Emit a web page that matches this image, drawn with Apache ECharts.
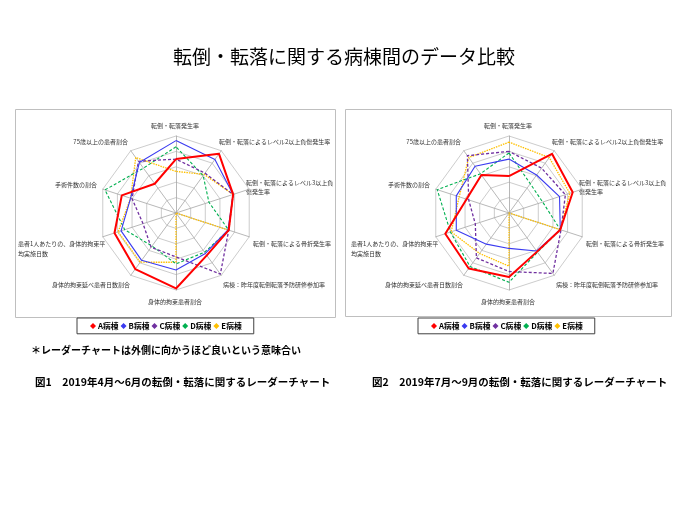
<!DOCTYPE html>
<html>
<head>
<meta charset="utf-8">
<script src="https://cdn.jsdelivr.net/npm/echarts@6/dist/echarts.min.js"></script>
<style>
html,body{margin:0;padding:0;background:#fff;}
#c{width:680px;height:510px;}
</style>
</head>
<body>
<div id="c"></div>
<script>
// Axis labels, clockwise from the top
const axisLabels = [
  '転倒・転落発生率',
  '転倒・転落によるレベル2以上負傷発生率',
  '転倒・転落によるレベル3以上負\n傷発生率',
  '転倒・転落による骨折発生率',
  '病棟：昨年度転倒転落予防研修参加率',
  '身体的拘束患者割合',
  '身体的拘束延べ患者日数割合',
  '患者1人あたりの、身体的拘束平\n均実施日数',
  '手術件数の割合',
  '75歳以上の患者割合'
];
const wards = ['A病棟', 'B病棟', 'C病棟', 'D病棟', 'E病棟'];
const wardColors = ['#FF0000', '#3A3AF0', '#7030A0', '#00B050', '#FFC000'];

// Fig.1: 2019 Apr-Jun (clockwise from top, scale 0-100)
const q1A = [70, 95, 78, 72, 68, 98, 90, 84, 74, 47];
const q1B = [94, 86, 78, 71, 65, 74, 76, 75, 62, 81];
const q1C = [70, 64, 78, 72, 98, 57, 55, 45, 60, 83];
const q1D = [86, 60, 45, 72, 63, 66, 53, 70, 97, 72];
const q1E = [54, 62, 78, 72, 0, 64, 79, 79, 62, 89];

// Fig.2: 2019 Jul-Sep
const q2A = [48, 95, 87, 70, 62, 83, 89, 87, 58, 61];
const q2B = [70, 61, 69, 70, 61, 46, 50, 72, 72, 75];
const q2C = [80, 72, 77, 71, 97, 76, 72, 46, 55, 92];
const q2D = [78, 47, 46, 70, 63, 90, 86, 80, 98, 63];
const q2E = [92, 89, 83, 70, 0, 69, 65, 79, 68, 89];

const quarters = [[q1A, q1B, q1C, q1D, q1E], [q2A, q2B, q2C, q2D, q2E]];

// ECharts places indicators counter-clockwise; reorder to get clockwise
const order = [0, 9, 8, 7, 6, 5, 4, 3, 2, 1];
const reorder = arr => order.map(i => arr[i]);

const FONT = '"Noto Sans CJK JP", "Noto Sans", sans-serif';
const lineStyles = [
  {width: 2, type: 'solid'},
  {width: 1.1, type: 'solid'},
  {width: 1.3, type: [3, 2]},
  {width: 1.1, type: [3, 2]},
  {width: 1.3, type: [1.5, 1]}
];
const drawOrder = [4, 3, 2, 1, 0];

// layout of the charts and of the axis names (offsets from each radar centre)
const centersX = [176, 509];
const centerY = 213;
const nameOffsets = [
  [-1, -87, 'center'], [43, -71, 'left'], [70, -26, 'left'], [77, 31, 'left'],
  [47, 72, 'left'], [-1, 89, 'center'], [-46, 72, 'right'], [-158, 35.5, 'left'],
  [-79, -28, 'right'], [-48, -71, 'right']
];

const nameGraphics = [];
centersX.forEach(cx => {
  axisLabels.forEach((t, i) => {
    const o = nameOffsets[i];
    nameGraphics.push({
      type: 'text', x: cx + o[0], y: centerY + o[1], silent: true,
      style: {text: t, fill: '#333', font: '6px ' + FONT, align: o[2], verticalAlign: 'middle', lineHeight: 9.5}
    });
  });
});

const chart = echarts.init(document.getElementById('c'), null, {renderer: 'canvas'});
chart.setOption({
  backgroundColor: '#fff',
  animation: false,
  textStyle: {fontFamily: FONT},
  title: [
    {text: '転倒・転落に関する病棟間のデータ比較', left: 173, top: 47, padding: 0,
     textStyle: {fontSize: 19, fontWeight: 'normal', color: '#000', fontFamily: FONT}},
    {text: '＊レーダーチャートは外側に向かうほど良いという意味合い', left: 31, top: 345, padding: 0,
     textStyle: {fontSize: 10, fontWeight: 'bold', color: '#000', fontFamily: FONT}},
    {text: '図1　2019年4月～6月の転倒・転落に関するレーダーチャート', left: 35, top: 377, padding: 0,
     textStyle: {fontSize: 10.5, fontWeight: 'bold', color: '#000', fontFamily: FONT}},
    {text: '図2　2019年7月～9月の転倒・転落に関するレーダーチャート', left: 372, top: 377, padding: 0,
     textStyle: {fontSize: 10.5, fontWeight: 'bold', color: '#000', fontFamily: FONT}}
  ],
  graphic: [
    {type: 'rect', shape: {x: 15.5, y: 109.5, width: 320, height: 208}, style: {fill: 'none', stroke: '#BFBFBF', lineWidth: 1}, z: -1},
    {type: 'rect', shape: {x: 345.5, y: 109.5, width: 326, height: 207}, style: {fill: 'none', stroke: '#BFBFBF', lineWidth: 1}, z: -1}
  ].concat(nameGraphics),
  legend: [0, 1].map(k => ({
    data: wards.map(name => ({name: name, icon: 'diamond'})),
    left: k === 0 ? 77 : 418,
    top: 318,
    orient: 'horizontal',
    itemWidth: 6, itemHeight: 6, itemGap: 2,
    padding: [4, 12, 4, 13],
    borderColor: '#404040', borderWidth: 1,
    textStyle: {fontSize: 7.8, fontWeight: 'bold', color: '#000', fontFamily: FONT, padding: [0, 0, 0, -3]},
    selectedMode: false
  })),
  radar: [0, 1].map(k => ({
    center: [centersX[k], centerY],
    radius: 77,
    startAngle: 90,
    splitNumber: 5,
    shape: 'polygon',
    indicator: reorder(axisLabels).map(n => ({name: n, max: 100, min: 0})),
    axisName: {show: false},
    axisLine: {lineStyle: {color: '#A6A6A6', width: 0.8}},
    splitLine: {lineStyle: {color: '#BFBFBF', width: 0.8}},
    splitArea: {show: false},
    axisTick: {show: false},
    axisLabel: {show: false}
  })),
  series: [0, 1].map(k => ({
    type: 'radar',
    radarIndex: k,
    symbol: 'none',
    silent: true,
    data: drawOrder.map(w => ({
      name: wards[w],
      value: reorder(quarters[k][w]),
      itemStyle: {color: wardColors[w]},
      lineStyle: Object.assign({color: wardColors[w]}, lineStyles[w])
    }))
  }))
});
</script>
</body>
</html>
